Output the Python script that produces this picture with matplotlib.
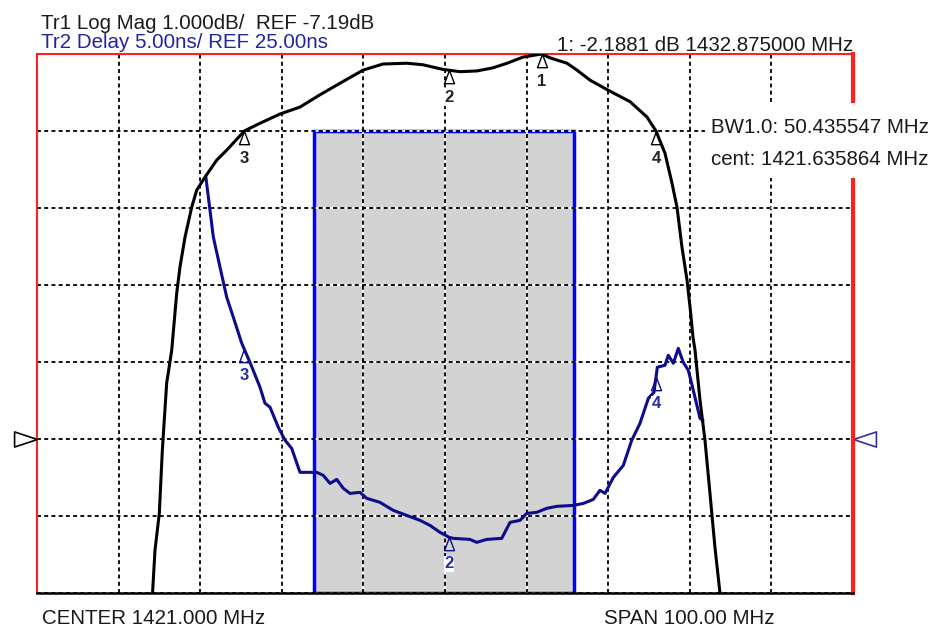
import numpy as np
import matplotlib
matplotlib.use("Agg")
import matplotlib.pyplot as plt
from matplotlib.patches import Rectangle

plt.rcParams['font.family'] = ['Liberation Sans', 'DejaVu Sans']

# Tr1: log mag (dB)
mag_freq = [1385.0, 1385.18, 1385.46, 1385.99, 1386.36, 1386.89, 1387.51, 1388.12, 1388.52,
            1389.14, 1389.96, 1390.57, 1391.59, 1393.02, 1394.25, 1396.42, 1398.33, 1400.78,
            1403.23, 1405.68, 1408.13, 1410.95, 1413.40, 1416.34, 1418.30, 1420.75, 1422.84,
            1424.92, 1426.88, 1428.60, 1430.56, 1432.27, 1432.875, 1433.87, 1435.95, 1437.18,
            1438.77, 1440.98, 1443.68, 1445.76, 1446.854, 1447.96, 1448.82, 1449.43, 1450.04,
            1450.66, 1451.03, 1451.39, 1451.64, 1452.25, 1452.86, 1453.47, 1454.08, 1454.69,
            1454.95]
mag_db = [-9.60, -9.16, -8.64, -8.16, -7.34, -6.47, -6.04, -5.30, -4.96,
          -4.57, -4.18, -3.96, -3.79, -3.57, -3.44, -3.19, -3.09, -2.97,
          -2.88, -2.72, -2.57, -2.40, -2.32, -2.31, -2.33, -2.39, -2.42,
          -2.41, -2.37, -2.31, -2.23, -2.20, -2.19, -2.24, -2.31, -2.40,
          -2.53, -2.66, -2.81, -3.01, -3.19, -3.48, -3.87, -4.18, -4.70,
          -5.13, -5.48, -5.87, -6.04, -6.69, -7.21, -7.90, -8.60, -9.19,
          -9.60]

# Tr2: group delay (ns)
dly_freq = [1391.71, 1392.61, 1393.43, 1394.25, 1395.06, 1396.09, 1397.10, 1398.33, 1398.94,
            1399.56, 1400.57, 1401.40, 1402.21, 1403.23, 1405.28, 1406.09, 1406.91, 1407.73,
            1408.54, 1409.36, 1410.58, 1411.41, 1413.03, 1414.66, 1416.31, 1417.94, 1419.16,
            1420.39, 1421.53, 1422.02, 1424.06, 1424.89, 1426.11, 1427.95, 1428.97, 1430.20,
            1431.01, 1432.24, 1433.46, 1434.69, 1436.72, 1437.95, 1439.17, 1439.99, 1440.61,
            1441.63, 1442.85, 1443.88, 1444.90, 1445.92, 1446.61, 1447.02, 1447.96, 1448.36,
            1448.98, 1449.59, 1450.20, 1450.82, 1451.43, 1452.25, 1452.58]
dly_ns = [41.93, 38.10, 36.14, 34.19, 32.89, 31.20, 29.96, 28.34, 27.30,
          27.04, 25.74, 24.89, 24.37, 22.81, 22.81, 22.61, 22.09, 22.35,
          21.77, 21.44, 21.51, 21.12, 20.86, 20.34, 20.01, 19.69, 19.36,
          18.91, 18.58, 18.52, 18.45, 18.26, 18.45, 18.52, 19.56, 19.69,
          20.14, 20.21, 20.47, 20.60, 20.66, 20.79, 21.05, 21.64, 21.44,
          22.48, 23.26, 24.89, 26.00, 27.62, 28.01, 29.64, 29.77, 30.42,
          29.90, 30.87, 29.96, 29.44, 28.14, 26.32, 26.19]

# markers
mk_ids = ['1', '2', '3', '4']
mk_freq = [1432.875, 1421.5, 1396.418, 1446.854]
mk2_ids = ['2', '3', '4']
mk2_freq = [1421.5, 1396.418, 1446.854]

# limit box (freq start/stop, delay top)
box_f = [1404.9, 1436.8]
box_top = 45.0

center, span = 1421.0, 100.0
mag_ref, mag_div = -7.19, 1.0
dly_ref, dly_div = 25.0, 5.0
ref_pos = 2  # divisions from bottom
ndiv = 7

W, H = 936, 629
fig = plt.figure(figsize=(W / 100, H / 100), dpi=100)
L, R, T, B = 37, 853, 54, 592.5
ax = fig.add_axes([L / W, 1 - B / H, (R - L) / W, (B - T) / H])
axm = ax.twinx()

f0, f1 = center - span / 2, center + span / 2
ax.set_xlim(f0, f1)
ax.set_ylim(dly_ref - ref_pos * dly_div, dly_ref + (ndiv - ref_pos) * dly_div)
axm.set_ylim(mag_ref - ref_pos * mag_div, mag_ref + (ndiv - ref_pos) * mag_div)

ax.set_xticks(np.linspace(f0, f1, 11))
ax.set_yticks(np.arange(ndiv + 1) * dly_div + dly_ref - ref_pos * dly_div)
ax.grid(True, color='black', linestyle=(0, (2.2, 1.8)), linewidth=1.3, gapcolor='white')
ax.tick_params(length=0, labelleft=False, labelbottom=False)
axm.tick_params(length=0, labelright=False)
for s in axm.spines.values():
    s.set_visible(False)

ax.spines['left'].set_color('#ff2020')
ax.spines['top'].set_color('#ff2020')
ax.spines['right'].set_color('#ff2020')
ax.spines['right'].set_linewidth(3)
ax.spines['left'].set_linewidth(1.5)
ax.spines['top'].set_linewidth(1.5)
ax.spines['bottom'].set_color('black')
ax.spines['bottom'].set_linewidth(1.8)

# limit box
ax.add_patch(Rectangle((box_f[0], ax.get_ylim()[0]), box_f[1] - box_f[0],
                       box_top - ax.get_ylim()[0], facecolor='#d3d3d3',
                       edgecolor='#0000ff', linewidth=2.5, zorder=1))

navy = '#0c0c8c'
ax.plot(dly_freq, dly_ns, color=navy, lw=2.2, zorder=3)
axm.plot(mag_freq, mag_db, color='black', lw=2.2, zorder=3)

tri = [(0, 0), (-0.38, -1), (0.38, -1), (0, 0)]
lab_box = dict(facecolor='white', edgecolor='none', pad=0.5)
for i, f in zip(mk_ids, mk_freq):
    v = np.interp(f, mag_freq, mag_db)
    axm.plot(f, v, marker=tri, ms=19, mfc='none', mec='black', mew=1, clip_on=False, zorder=4)
    axm.annotate(i, (f, v), xytext=(0, -20), textcoords='offset points', ha='center',
                 va='center', fontsize=12, fontweight='bold', color='#222222', bbox=lab_box)
for i, f in zip(mk2_ids, mk2_freq):
    v = np.interp(f, dly_freq, dly_ns)
    ax.plot(f, v, marker=tri, ms=19, mfc='none', mec=navy, mew=1, clip_on=False, zorder=4)
    ax.annotate(i, (f, v), xytext=(0, -19), textcoords='offset points', ha='center',
                va='center', fontsize=12, fontweight='bold', color='#2a2aa5', bbox=lab_box)

# reference position arrows
axm.plot(f0, mag_ref, marker=[(0, 0), (-1, 0.33), (-1, -0.33), (0, 0)], ms=33,
         mfc='none', mec='black', mew=1.2, clip_on=False)
ax.plot(f1, dly_ref, marker=[(0, 0), (1, 0.33), (1, -0.33), (0, 0)], ms=33,
        mfc='none', mec='#3030a0', mew=1.2, clip_on=False)

# annotations
fs = 14.8
fig.text(41 / W, 1 - 29 / H, 'Tr1 Log Mag 1.000dB/  REF -7.19dB', fontsize=fs,
         color='#1a1a1a', va='baseline')
fig.text(41 / W, 1 - 48 / H, 'Tr2 Delay 5.00ns/ REF 25.00ns', fontsize=fs,
         color='#2424a0', va='baseline')
fig.text(853 / W, 1 - 51 / H, '1: -2.1881 dB 1432.875000 MHz', fontsize=fs,
         color='#1a1a1a', va='baseline', ha='right')
fig.patches.append(Rectangle((705 / W, 1 - 178 / H), 231 / W, 75 / H, facecolor='white',
                             edgecolor='none', transform=fig.transFigure, zorder=2))
fig.text(711 / W, 1 - 133 / H, 'BW1.0: 50.435547 MHz', fontsize=fs, color='#1a1a1a',
         va='baseline', zorder=3)
fig.text(711 / W, 1 - 165 / H, 'cent: 1421.635864 MHz', fontsize=fs, color='#1a1a1a',
         va='baseline', zorder=3)
fig.text(42 / W, 1 - 624 / H, 'CENTER 1421.000 MHz', fontsize=fs, color='#1a1a1a',
         va='baseline')
fig.text(604 / W, 1 - 624 / H, 'SPAN 100.00 MHz', fontsize=fs, color='#1a1a1a',
         va='baseline')

fig.savefig('out.png', dpi=100)
